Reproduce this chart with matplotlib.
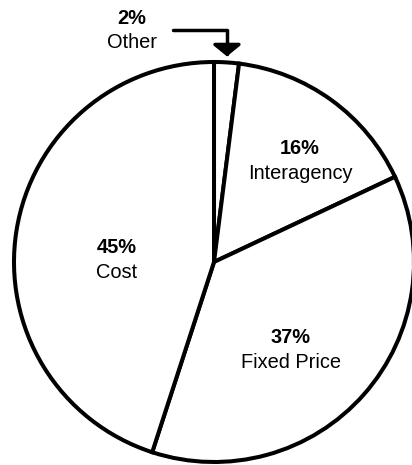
import numpy as np
import matplotlib.pyplot as plt

# datos del grafico
labels = ['Other', 'Interagency', 'Fixed Price', 'Cost']
shares = [2, 16, 37, 45]

W, H = 412, 465
fig = plt.figure(figsize=(W / 100, H / 100), dpi=100)
# circulo de radio 200 px con centro en (214, 262) desde arriba
ax = fig.add_axes([14 / W, 3 / H, 400 / W, 400 / H])

wedges, _ = ax.pie(shares, startangle=90, counterclock=False, radius=1,
                   colors=['white'] * len(shares),
                   wedgeprops=dict(edgecolor='black', linewidth=2.9))
ax.set_xlim(-1, 1)
ax.set_ylim(-1, 1)
ax.set_aspect('equal')
ax.axis('off')

font = 'Liberation Sans'
fs = 14.4

# posiciones de las etiquetas (centro de cada bloque)
label_pos = {
    'Interagency': (0.43, 0.57),
    'Fixed Price': (0.385, -0.375),
    'Cost': (-0.485, 0.075),
    'Other': (-0.41, 1.22),
}
gap = 0.125
for name, val in zip(labels, shares):
    x, y = label_pos[name]
    ax.text(x, y, f'{val}%', ha='center', va='center', fontsize=fs,
            fontweight='bold', family=font)
    ax.text(x, y - gap, name, ha='center', va='center', fontsize=fs,
            family=font)

# flecha hacia la porcion "Other"
w0 = wedges[0]
mid = np.deg2rad((w0.theta1 + w0.theta2) / 2)
tip = (1.03 * np.cos(mid), 1.03 * np.sin(mid))
ax.annotate('', xy=tip, xytext=(-0.205, 1.16),
            arrowprops=dict(arrowstyle='-|>,head_length=0.35,head_width=0.43',
                            connectionstyle='angle,angleA=0,angleB=90,rad=0',
                            mutation_scale=20,
                            color='black', lw=2.5, shrinkA=0, shrinkB=0),
            annotation_clip=False)

fig.savefig('out.png', dpi=100)
